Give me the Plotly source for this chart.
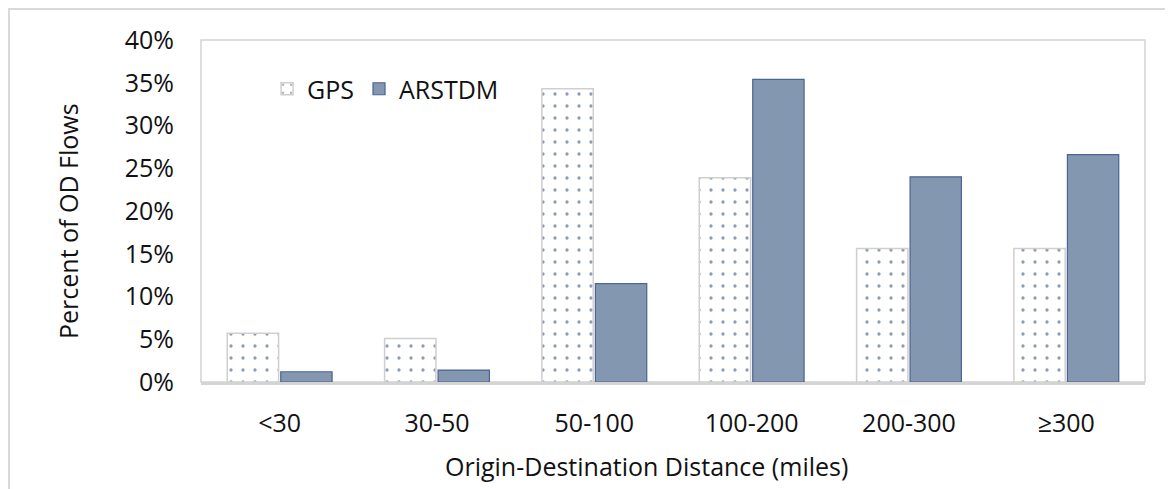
import plotly.graph_objects as go

categories = ['<30', '30-50', '50-100', '100-200', '200-300', '≥300']
gps = [5.7, 5.1, 34.3, 23.9, 15.6, 15.6]
arstdm = [1.2, 1.4, 11.5, 35.4, 24.0, 26.6]
y_ticks = [0, 5, 10, 15, 20, 25, 30, 35, 40]
y_labels = [f'{v}%' for v in y_ticks]

FONT = 'Open Sans'
# the page puts the figure 8px in from the top-left corner
OFF = 8
L, R, T, B = 201, 1145, 40, 382      # plot area in page pixels
PW, PH = R - L, B - T


def px(x):
    return (x - L) / PW


def py(y):
    return (B - y) / PH


fig = go.Figure()
fig.add_trace(go.Bar(
    x=categories, y=gps, name='GPS',
    marker=dict(color='white',
                line=dict(color='#cfcfcf', width=1.5),
                pattern=dict(shape='.', fgcolor='#1a3a60', bgcolor='white',
                             size=12, solidity=0.06, fillmode='overlay'))
))
fig.add_trace(go.Bar(
    x=categories, y=arstdm, name='ARSTDM',
    marker=dict(color='#8497b0', line=dict(color='#4a6591', width=1.2))
))

# plot area frame and outer chart frame
fig.add_shape(type='rect', xref='paper', yref='paper', x0=0, x1=1, y0=0, y1=1,
              line=dict(color='#d4d4d4', width=1.5), layer='below')
fig.add_shape(type='rect', xref='paper', yref='paper',
              x0=px(OFF + 1), x1=px(1190), y0=py(520), y1=py(OFF + 1),
              line=dict(color='#d9d9d9', width=2), layer='below')

fig.add_annotation(text='Percent of OD Flows', xref='paper', yref='paper',
                   x=px(68), y=py(221), textangle=-90,
                   xanchor='center', yanchor='middle',
                   showarrow=False, font=dict(family=FONT, size=25, color='#111'))
fig.add_annotation(text='Origin-Destination Distance (miles)', xref='paper', yref='paper',
                   x=px(646), y=py(466),
                   xanchor='center', yanchor='middle',
                   showarrow=False, font=dict(family=FONT, size=25, color='#111'))

fig.update_layout(
    width=1173 - OFF, height=489 - OFF,
    margin=dict(l=L - OFF, r=1173 - R, t=T - OFF, b=489 - B),
    paper_bgcolor='white', plot_bgcolor='white',
    barmode='group', bargap=0.32, bargroupgap=0.04,
    font=dict(family=FONT, size=25, color='#111'),
    showlegend=True,
    legend=dict(orientation='h', x=0.07, y=py(66), xanchor='left', yanchor='top',
                bgcolor='rgba(0,0,0,0)', font=dict(size=25), itemwidth=30),
    xaxis=dict(showgrid=False, showline=True, linecolor='#d4d4d4', linewidth=3,
               ticks='', ticklabelstandoff=17),
    yaxis=dict(range=[0, 40], tickvals=y_ticks, ticktext=y_labels,
               showgrid=False, zeroline=False, showline=False,
               ticks='', ticklabelstandoff=26),
)

fig.write_html('out.html')
